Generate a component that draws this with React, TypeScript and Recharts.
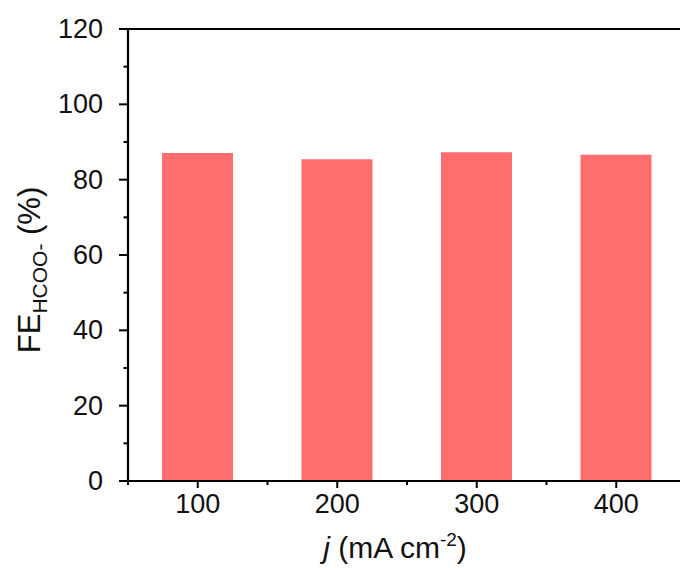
import { BarChart, Bar, XAxis, YAxis, ReferenceLine } from "recharts"

const currentDensity = [100, 200, 300, 400]
const feHCOO = [87.1, 85.4, 87.3, 86.6]
const yTicks = [0, 10, 20, 30, 40, 50, 60, 70, 80, 90, 100, 110, 120]
const xTicks = [50, 100, 150, 200, 250, 300, 350, 400]

const data = currentDensity.map((j, i) => ({ j, fe: feHCOO[i] }))

const FONT = "'Liberation Sans', Arial, sans-serif"

const YTick = (props: any) => {
    const { x, y, payload } = props
    const major = payload.value % 20 === 0
    return (
        <g>
            <line x1={x - (major ? 9 : 4.5)} x2={x} y1={y} y2={y} stroke="#000" strokeWidth={2} />
            {major && (
                <text x={x - 25} y={y} textAnchor="end" dominantBaseline="central"
                    fontSize={27} fontFamily={FONT} fill="#111">
                    {payload.value}
                </text>
            )}
        </g>
    )
}

const XTick = (props: any) => {
    const { x, y, payload } = props
    const major = payload.value % 100 === 0
    return (
        <g>
            <line x1={x} x2={x} y1={y} y2={y + (major ? 7 : 4)} stroke="#000" strokeWidth={2} />
            {major && (
                <text x={x} y={y + 32} textAnchor="middle"
                    fontSize={27} fontFamily={FONT} fill="#111">
                    {payload.value}
                </text>
            )}
        </g>
    )
}

const YLabel = () => (
    <text transform="translate(40, 270) rotate(-90)" textAnchor="middle"
        fontSize={31} fontFamily={FONT} fill="#111">
        FE
        <tspan fontSize={21} dy={7}>HCOO-</tspan>
        <tspan dy={-7}> (%)</tspan>
    </text>
)

const XLabel = () => (
    <text x={395} y={558} textAnchor="middle" fontSize={30} fontFamily={FONT} fill="#111">
        <tspan fontStyle="italic">j</tspan>
        <tspan> (mA cm</tspan>
        <tspan fontSize={19} dy={-12}>-2</tspan>
        <tspan dy={12}>)</tspan>
    </text>
)

export default function App() {
    return (
        <div style={{ position: "absolute", left: 0, top: 0, width: 680, height: 568, overflow: "hidden", background: "#fff" }}>
            <BarChart width={700} height={568} data={data}
                margin={{ top: 29, right: 14, bottom: 0, left: 0 }}>
                <XAxis dataKey="j" type="number" domain={[50, 450]} ticks={xTicks}
                    interval={0} height={87} tickSize={0} tickMargin={0}
                    axisLine={{ stroke: "#000", strokeWidth: 2.2 }} tickLine={false}
                    tick={<XTick />} label={<XLabel />} />
                <YAxis type="number" domain={[0, 120]} ticks={yTicks} interval={0}
                    width={128} tickSize={0} tickMargin={0}
                    axisLine={{ stroke: "#000", strokeWidth: 2.2 }} tickLine={false}
                    tick={<YTick />} label={<YLabel />} />
                <ReferenceLine y={120} stroke="#000" strokeWidth={2.2} />
                <ReferenceLine x={450} stroke="#000" strokeWidth={2.2} />
                <Bar dataKey="fe" fill="#FF6E6E" barSize={71} isAnimationActive={false} />
            </BarChart>
        </div>
    )
}
